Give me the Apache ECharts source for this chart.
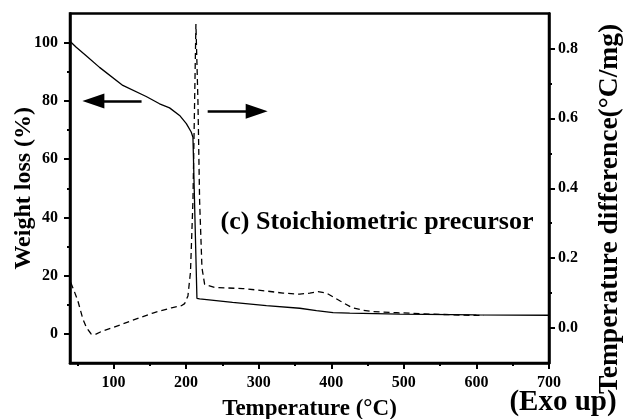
<!DOCTYPE html>
<html><head><meta charset="utf-8">
<script src="https://cdn.jsdelivr.net/npm/echarts@6/dist/echarts.min.js"></script>
<style>html,body{margin:0;padding:0;background:#fff}#c{width:624px;height:419px}</style>
</head><body><div id="c"></div>
<script>
// TG curve (weight loss, left axis)
const tempTG = [40, 48.6, 62.3, 80.7, 112.8, 145, 163.4, 177.2, 191, 200.3, 207, 209.4, 214.9, 218.6, 264, 310.6, 356.6, 379.6, 402.5, 425.5, 494.5, 600, 700];
const weightTG = [100.5, 98.4, 95.5, 91.5, 85.3, 81.5, 79, 77.6, 75, 72.2, 69.3, 67.5, 12.2, 12, 10.8, 9.7, 8.8, 8.0, 7.3, 7.1, 6.75, 6.5, 6.4];
// DTA curve (temperature difference, right axis)
const tempDTA = [41, 45, 50.8, 57.7, 63, 69.2, 75, 85.2, 100, 122, 154.2, 180, 193.4, 198, 202.5, 206, 209.4, 211.7, 213.5, 215, 216.3, 218.6, 221.8, 225.5, 228, 239.3, 278.3, 310.6, 333.5, 356.6, 370.3, 381.8, 393.4, 411.7, 427.9, 443.9, 457.2, 490, 535.9, 581.8, 610];
const dtaValues = [0.13, 0.11, 0.078, 0.026, 0.0, -0.017, -0.018, -0.008, 0.002, 0.019, 0.043, 0.058, 0.064, 0.07, 0.092, 0.16, 0.363, 0.648, 0.87, 0.87, 0.648, 0.363, 0.173, 0.125, 0.125, 0.116, 0.113, 0.106, 0.1, 0.097, 0.1, 0.104, 0.1, 0.078, 0.059, 0.051, 0.047, 0.044, 0.04, 0.037, 0.036];
// tick labels
const xTicks = [100, 200, 300, 400, 500, 600, 700];
const xMinorTicks = [50, 150, 250, 350, 450, 550, 650];
const leftTicks = [0, 20, 40, 60, 80, 100];
const leftMinorTicks = [10, 30, 50, 70, 90];
const rightTicks = [0, 0.2, 0.4, 0.6, 0.8];
const rightMinorTicks = [0.1, 0.3, 0.5, 0.7];
// arrows (annotation, in data units of the weight axis; end = arrow-head centre)
const arrowLeft = { from: [138.6, 80], to: [72.2, 80] };
const arrowRight = { from: [229.7, 76.4], to: [297.2, 76.4] };

const FONT = '"Liberation Serif", "Times New Roman", serif';
const lbl = { fontFamily: FONT, fontWeight: 'bold', fontSize: 16, color: '#000' };
const axisLineStyle = { show: true, onZero: false, lineStyle: { color: '#000', width: 2.5 } };
const hiddenLine = { show: false, onZero: false };

const chart = echarts.init(document.getElementById('c'), null, { renderer: 'canvas' });
chart.setOption({
  animation: false,
  backgroundColor: '#fff',
  grid: { left: 70, right: 75, top: 13.5, bottom: 56, containLabel: false, outerBoundsMode: 'none',
          show: true, borderColor: '#000', borderWidth: 2.5, backgroundColor: 'transparent' },
  xAxis: [
    { type: 'value', min: 40, max: 700, position: 'bottom',
      axisLine: axisLineStyle,
      axisTick: { show: true, customValues: xTicks, length: 6, lineStyle: { color: '#000', width: 2 } },
      axisLabel: Object.assign({ customValues: xTicks, margin: 12 }, lbl),
      splitLine: { show: false },
      name: 'Temperature (°C)', nameLocation: 'middle', nameGap: 35,
      nameTextStyle: { fontFamily: FONT, fontWeight: 'bold', fontSize: 23, color: '#000' } },
    { type: 'value', min: 40, max: 700, position: 'bottom',
      axisLine: hiddenLine,
      axisTick: { show: true, customValues: xMinorTicks, length: 3, lineStyle: { color: '#000', width: 2 } },
      axisLabel: { show: false }, splitLine: { show: false } }
  ],
  yAxis: [
    { type: 'value', min: -10, max: 110, position: 'left',
      axisLine: axisLineStyle,
      axisTick: { show: true, customValues: leftTicks, length: 6, lineStyle: { color: '#000', width: 2 } },
      axisLabel: Object.assign({ customValues: leftTicks, margin: 12 }, lbl),
      splitLine: { show: false },
      name: 'Weight loss (%)', nameLocation: 'middle', nameGap: 34, nameMoveOverlap: false,
      nameTextStyle: { fontFamily: FONT, fontWeight: 'bold', fontSize: 24, color: '#000' } },
    { type: 'value', min: -0.1, max: 0.9, position: 'right',
      axisLine: axisLineStyle,
      axisTick: { show: true, customValues: rightTicks, length: 6, lineStyle: { color: '#000', width: 2 } },
      axisLabel: Object.assign({ customValues: rightTicks, margin: 9, formatter: v => v.toFixed(1) }, lbl),
      splitLine: { show: false } },
    { type: 'value', min: -10, max: 110, position: 'left',
      axisLine: hiddenLine,
      axisTick: { show: true, customValues: leftMinorTicks, length: 3, lineStyle: { color: '#000', width: 2 } },
      axisLabel: { show: false }, splitLine: { show: false } },
    { type: 'value', min: -0.1, max: 0.9, position: 'right',
      axisLine: hiddenLine,
      axisTick: { show: true, customValues: rightMinorTicks, length: 3, lineStyle: { color: '#000', width: 2 } },
      axisLabel: { show: false }, splitLine: { show: false } }
  ],
  series: [
    { name: 'TG', type: 'line', xAxisIndex: 0, yAxisIndex: 0, showSymbol: false, smooth: false,
      data: tempTG.map((t, i) => [t, weightTG[i]]),
      lineStyle: { color: '#000', width: 1.3 },
      markLine: {
        silent: true, animation: false,
        symbol: ['none', 'triangle'], symbolSize: [15, 22],
        label: { show: false },
        lineStyle: { color: '#000', width: 2.5, type: 'solid' },
        emphasis: { disabled: true },
        data: [
          [{ coord: arrowLeft.from }, { coord: arrowLeft.to }],
          [{ coord: arrowRight.from }, { coord: arrowRight.to }]
        ]
      } },
    { name: 'DTA', type: 'line', xAxisIndex: 0, yAxisIndex: 1, showSymbol: false, smooth: false,
      data: tempDTA.map((t, i) => [t, dtaValues[i]]),
      lineStyle: { color: '#000', width: 1.3, type: [6, 4] } }
  ],
  graphic: [
    { type: 'text', x: 377, y: 222, style: { text: '(c) Stoichiometric precursor', font: 'bold 26px ' + FONT, fill: '#000', align: 'center', verticalAlign: 'middle' } },
    { type: 'text', x: 610, y: 209, rotation: Math.PI / 2, style: { text: 'Temperature difference(°C/mg)', font: 'bold 27.5px ' + FONT, fill: '#000', align: 'center', verticalAlign: 'middle' } },
    { type: 'text', x: 563, y: 403, style: { text: '(Exo up)', font: 'bold 29px ' + FONT, fill: '#000', align: 'center', verticalAlign: 'middle' } }
  ]
});
</script></body></html>
